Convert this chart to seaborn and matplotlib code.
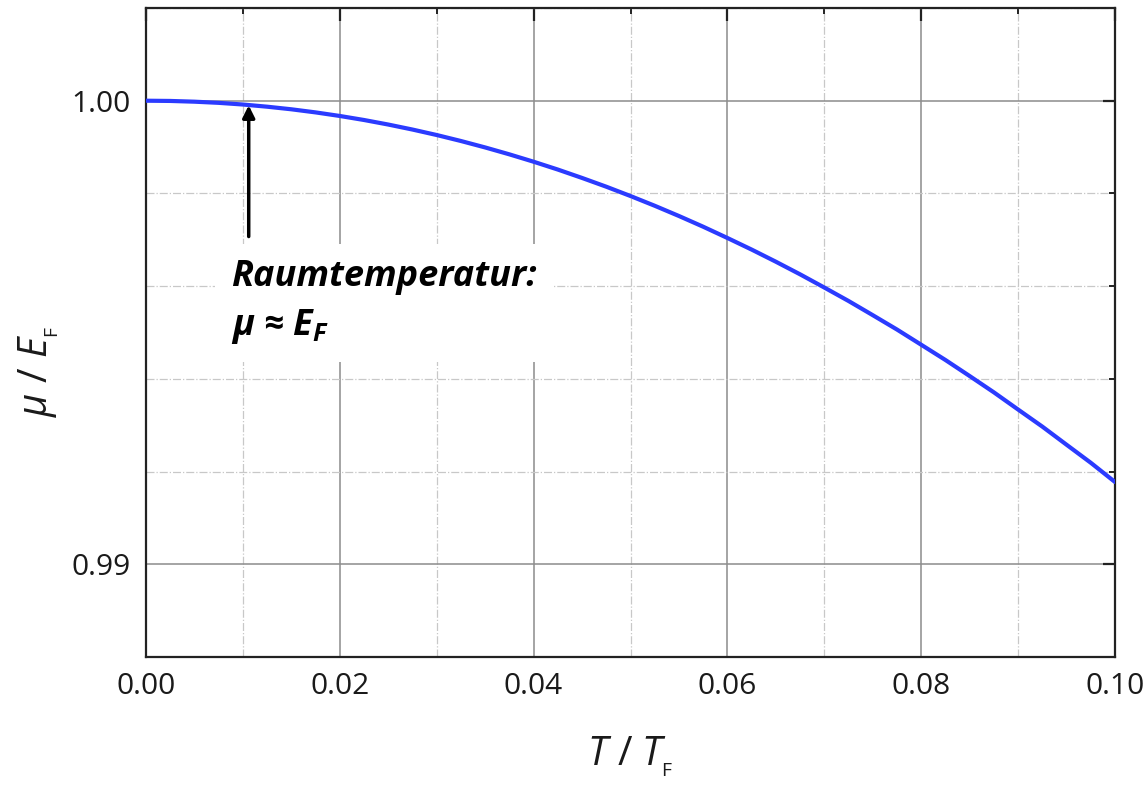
import numpy as np
import pandas as pd
import seaborn as sns
import matplotlib
matplotlib.use("Agg")
import matplotlib.pyplot as plt
from matplotlib.ticker import MultipleLocator, FormatStrFormatter

# data
t_over_tf = [0.0000, 0.0025, 0.0050, 0.0075, 0.0100, 0.0125, 0.0150, 0.0175, 0.0200, 0.0225,
             0.0250, 0.0275, 0.0300, 0.0325, 0.0350, 0.0375, 0.0400, 0.0425, 0.0450, 0.0475,
             0.0500, 0.0525, 0.0550, 0.0575, 0.0600, 0.0625, 0.0650, 0.0675, 0.0700, 0.0725,
             0.0750, 0.0775, 0.0800, 0.0825, 0.0850, 0.0875, 0.0900, 0.0925, 0.0950, 0.0975,
             0.1000]
mu_over_ef = [1.000000, 0.999995, 0.999979, 0.999954, 0.999918, 0.999871, 0.999815, 0.999748,
              0.999671, 0.999584, 0.999486, 0.999378, 0.999260, 0.999131, 0.998992, 0.998843,
              0.998684, 0.998515, 0.998334, 0.998145, 0.997944, 0.997734, 0.997513, 0.997282,
              0.997039, 0.996789, 0.996527, 0.996255, 0.995970, 0.995680, 0.995374, 0.995064,
              0.994736, 0.994407, 0.994061, 0.993709, 0.993338, 0.992970, 0.992579, 0.992190,
              0.991775]
annotation_text = "Raumtemperatur:\nμ ≈ $\\mathbfit{E}_\\mathbfit{F}$"
room_temp_x = 0.0106

sns.set_theme(style="white")
plt.rcParams['font.family'] = ['Open Sans', 'DejaVu Sans']
plt.rcParams['mathtext.fontset'] = 'custom'
plt.rcParams['mathtext.rm'] = 'Open Sans'
plt.rcParams['mathtext.it'] = 'Open Sans:italic'
plt.rcParams['mathtext.bf'] = 'Open Sans:bold'
plt.rcParams['mathtext.bfit'] = 'Open Sans:bold:italic'

df = pd.DataFrame({"x": t_over_tf, "y": mu_over_ef})

fig = plt.figure(figsize=(11.48, 7.87), dpi=100)
ax = fig.add_axes([146/1148, 1 - 657/787, (1115-146)/1148, (657-8)/787])

sns.lineplot(data=df, x="x", y="y", ax=ax, color="#2b3bff", linewidth=3.0, zorder=3)

ax.set_xlim(0, 0.1)
ax.set_ylim(0.988, 1.002)
ax.xaxis.set_major_locator(MultipleLocator(0.02))
ax.xaxis.set_minor_locator(MultipleLocator(0.01))
ax.yaxis.set_major_locator(MultipleLocator(0.01))
ax.yaxis.set_minor_locator(MultipleLocator(0.002))
ax.xaxis.set_major_formatter(FormatStrFormatter('%.2f'))
ax.yaxis.set_major_formatter(FormatStrFormatter('%.2f'))

ax.grid(which='major', color='#8c8c8c', linewidth=1.1, linestyle='-', zorder=0)
ax.grid(which='minor', color='#c8c8c8', linewidth=0.9, linestyle='-.', zorder=0)
ax.set_axisbelow(True)

ax.tick_params(which='both', direction='in', top=True, right=True, colors='#222222',
               labelcolor='#1a1a1a', labelsize=21.5)
ax.tick_params(which='major', length=9, width=1.6, pad=11)
ax.tick_params(which='minor', length=4, width=1.4)
for s in ax.spines.values():
    s.set_color('#222222')
    s.set_linewidth(1.6)

ax.set_xlabel(r'$T$ / $T_{{}_{\mathrm{F}}}$', fontsize=28.5, labelpad=24, color='#1a1a1a')
ax.set_ylabel(r'$\mu$ / $E_{{}_{\mathrm{F}}}$', fontsize=28.5, color='#1a1a1a')
ax.yaxis.set_label_coords(-0.088, 0.44)

ax.annotate('', xy=(room_temp_x, 0.99990), xytext=(room_temp_x, 0.99707),
            arrowprops=dict(arrowstyle='-|>', color='black', lw=2.5,
                            mutation_scale=18, shrinkA=0, shrinkB=0), zorder=4)
ax.text(0.0088, 0.99565, annotation_text, fontsize=26, fontweight='bold',
        fontstyle='italic', color='black', ha='left', va='center', linespacing=1.42,
        bbox=dict(facecolor='white', edgecolor='none', pad=12), zorder=2)

fig.savefig("out.png", dpi=100)
